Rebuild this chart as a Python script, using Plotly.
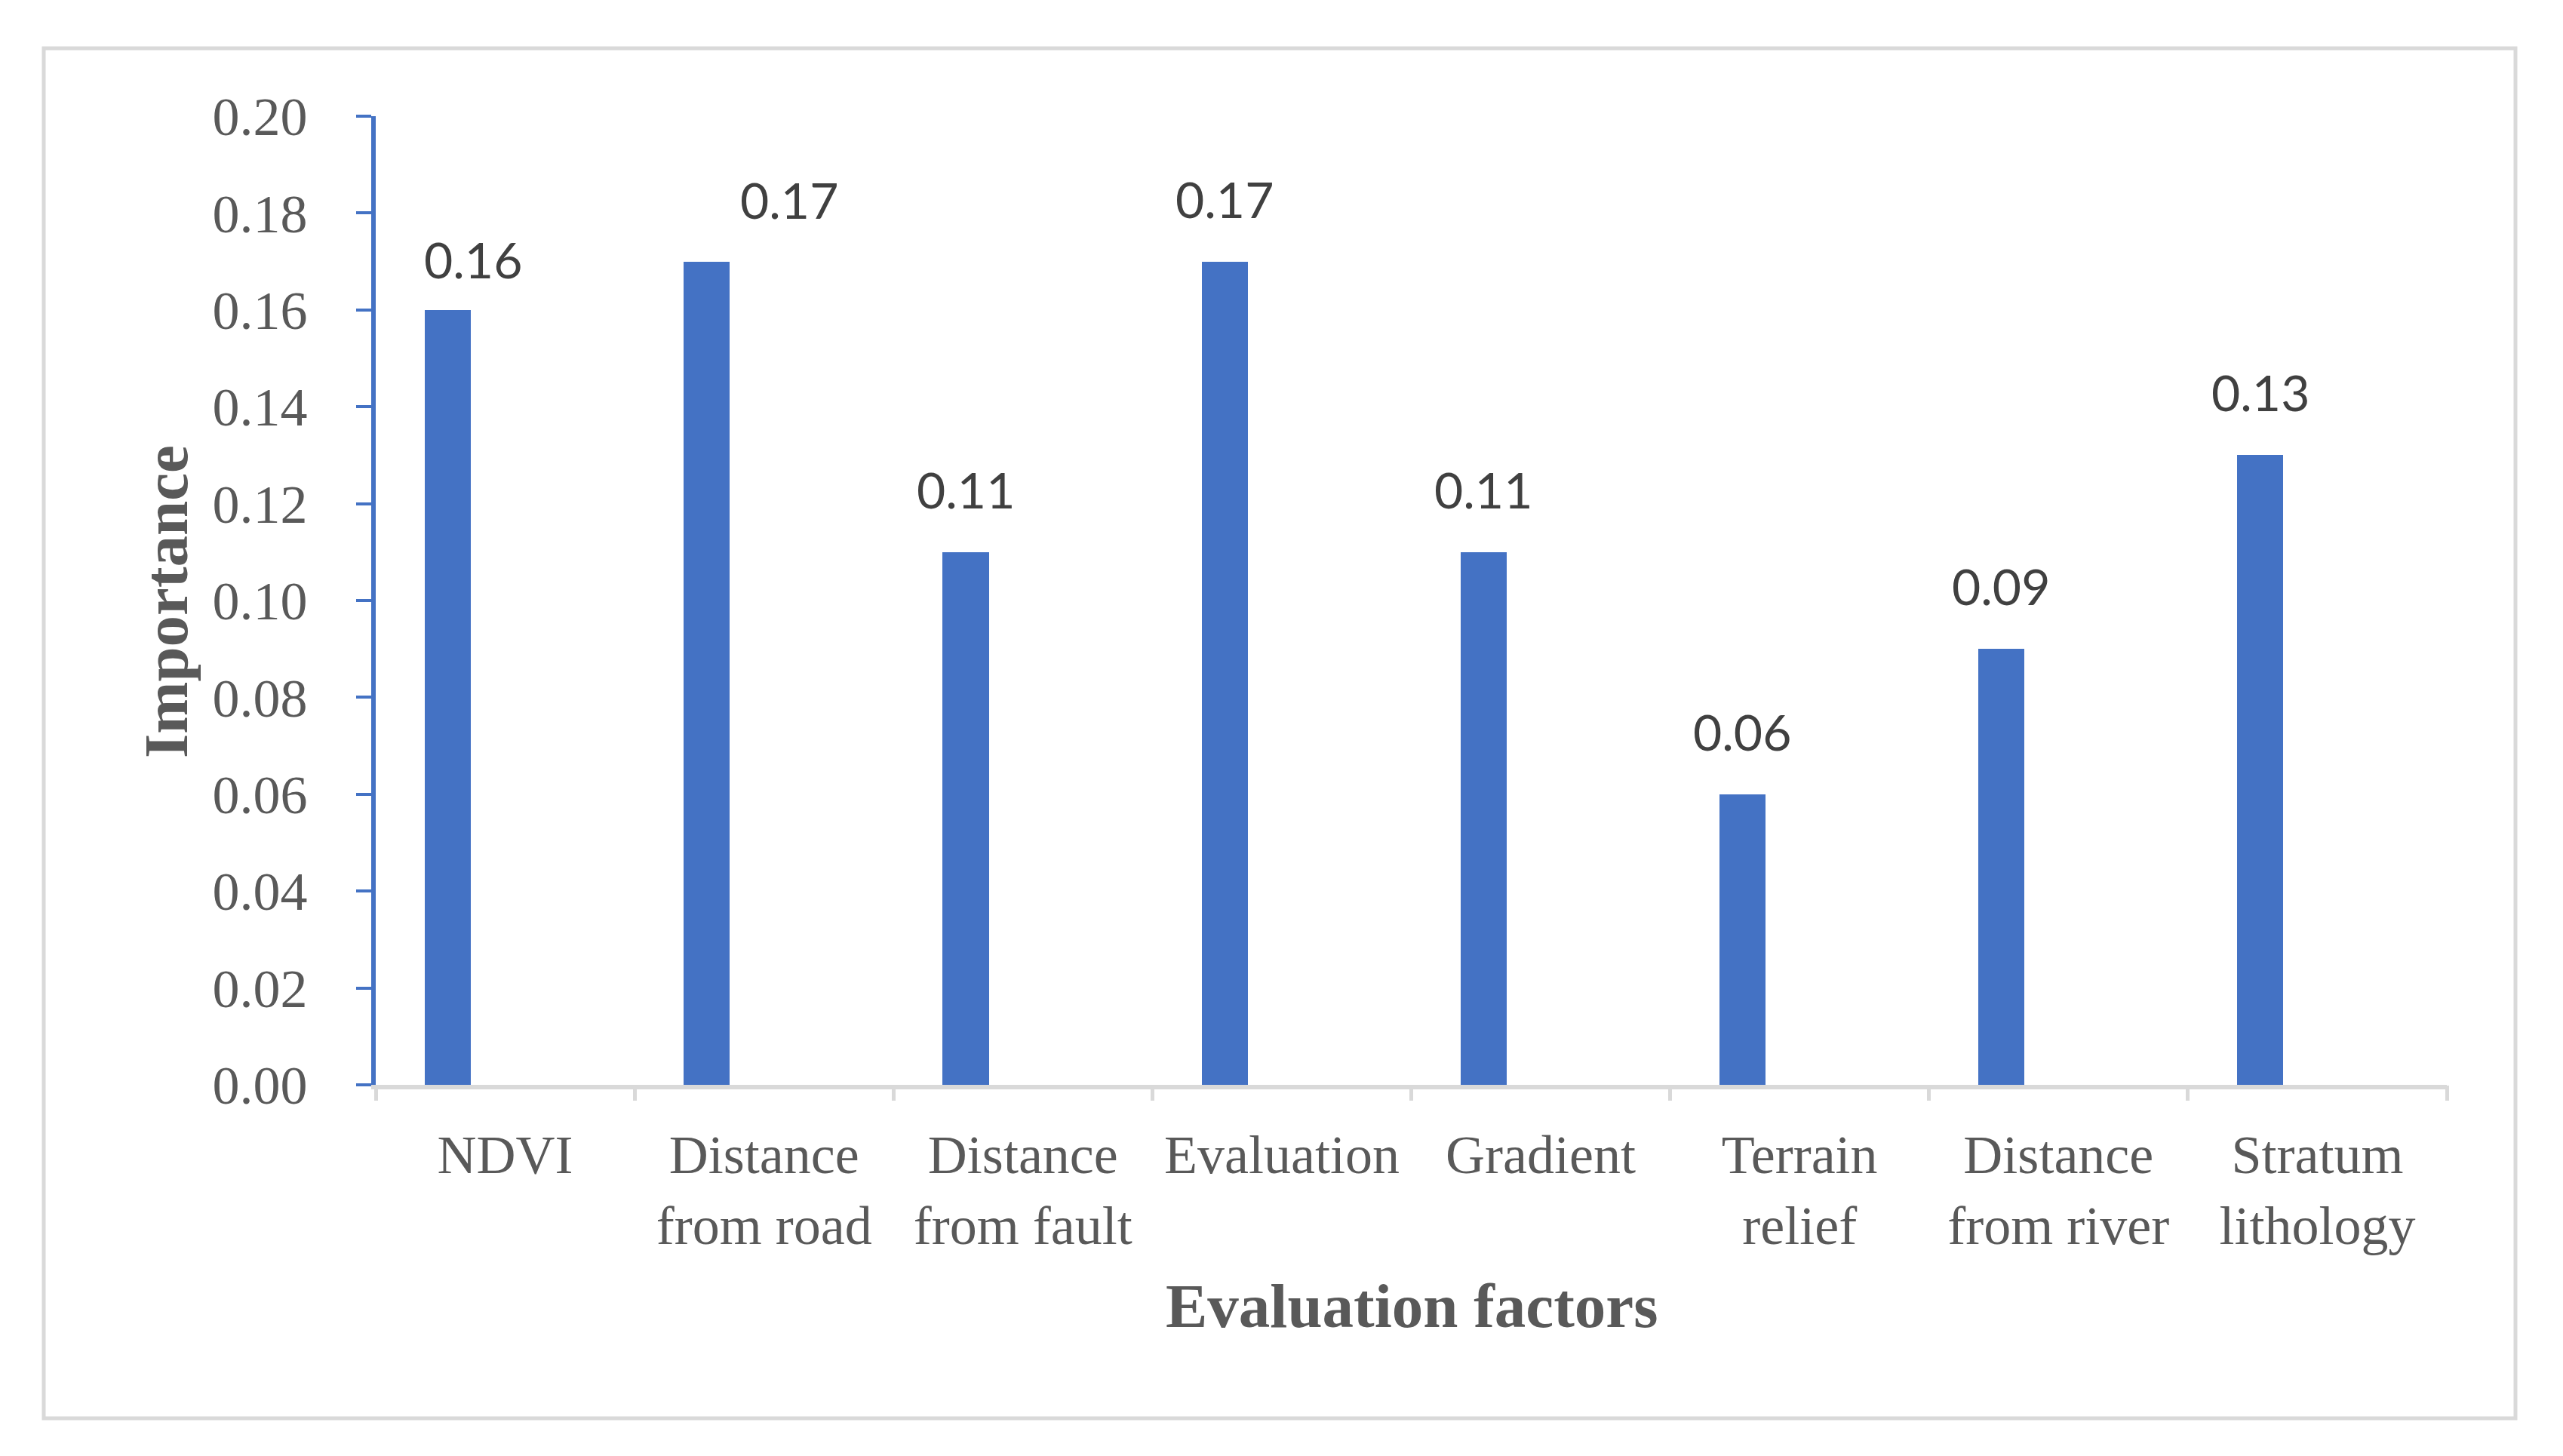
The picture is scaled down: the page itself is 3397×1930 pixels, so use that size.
import plotly.graph_objects as go

# ---- data ----
categories = ["NDVI", "Distance<br>from road", "Distance<br>from fault", "Evaluation",
              "Gradient", "Terrain<br>relief", "Distance<br>from river", "Stratum<br>lithology"]
importance = [0.16, 0.17, 0.11, 0.17, 0.11, 0.06, 0.09, 0.13]
value_labels = ["0.16", "0.17", "0.11", "0.17", "0.11", "0.06", "0.09", "0.13"]
y_ticks = [0.00, 0.02, 0.04, 0.06, 0.08, 0.10, 0.12, 0.14, 0.16, 0.18, 0.20]
y_tick_text = ["0.00", "0.02", "0.04", "0.06", "0.08", "0.10", "0.12", "0.14", "0.16", "0.18", "0.20"]

# ---- style ----
BAR_COLOR = "#4472C4"
BAR_WIDTH = 0.178
BAR_OFFSET = -0.31
LABEL_XSHIFT = [33, 109, 0, 0, 0, 0, 0, 0]
LABEL_YSHIFT = [26, 41, 42, 42, 42, 42, 42, 42]
SERIF = "Liberation Serif, Times New Roman, serif"
W, H = 3397, 1930
L, R, T, B = 498, 154, 154, 492

fig = go.Figure()
fig.add_trace(go.Bar(
    x=list(range(len(categories))), y=importance,
    width=BAR_WIDTH, offset=BAR_OFFSET,
    marker=dict(color=BAR_COLOR, line=dict(width=0)),
    hoverinfo="skip",
))

for i, (v, t) in enumerate(zip(importance, value_labels)):
    fig.add_annotation(
        x=i + BAR_OFFSET + BAR_WIDTH / 2, y=v, xref="x", yref="y",
        text=t, showarrow=False, xanchor="center", yanchor="bottom",
        xshift=LABEL_XSHIFT[i], yshift=LABEL_YSHIFT[i],
        font=dict(family="Lato, Open Sans, sans-serif", size=66, color="#404040"),
    )

pw = W - L - R
ph = H - T - B

def px_x(p):
    return (p - L) / pw

def px_y(p):
    return (H - B - p) / ph

# axis titles
fig.add_annotation(
    x=px_x(1871), y=px_y(1731), xref="paper", yref="paper",
    text="<b>Evaluation factors</b>", showarrow=False,
    xanchor="center", yanchor="middle",
    font=dict(family=SERIF, size=83, color="#595959"),
)
fig.add_annotation(
    x=px_x(220), y=px_y(798), xref="paper", yref="paper",
    text="<b>Importance</b>", showarrow=False, textangle=-90,
    xanchor="center", yanchor="middle",
    font=dict(family=SERIF, size=83, color="#595959"),
)

# outer border
fig.add_shape(
    type="rect", xref="paper", yref="paper",
    x0=px_x(58), x1=px_x(3334), y0=px_y(1880), y1=px_y(64),
    line=dict(color="#D9D9D9", width=5), fillcolor="rgba(0,0,0,0)", layer="below",
)

fig.update_layout(
    width=W, height=H,
    margin=dict(l=L, r=R, t=T, b=B, pad=0),
    paper_bgcolor="white", plot_bgcolor="white",
    showlegend=False,
    bargap=0,
    xaxis=dict(
        type="linear", range=[-0.5, len(categories) - 0.5],
        tickmode="array", tickvals=list(range(len(categories))), ticktext=categories,
        showgrid=False, zeroline=False,
        showline=True, linecolor="#D9D9D9", linewidth=6,
        ticks="",
        tickfont=dict(family=SERIF, size=72, color="#595959"),
        ticklabelstandoff=25,
    ),
    xaxis2=dict(
        overlaying="x", range=[-0.5, len(categories) - 0.5],
        tickmode="array", tickvals=[i - 0.5 for i in range(len(categories) + 1)],
        ticktext=[""] * (len(categories) + 1),
        ticks="outside", ticklen=20, tickwidth=5, tickcolor="#D9D9D9",
        showgrid=False, zeroline=False, showline=False,
        anchor="y", side="bottom",
    ),
    yaxis=dict(
        range=[0, 0.20], tickmode="array", tickvals=y_ticks, ticktext=y_tick_text,
        showgrid=False, zeroline=False,
        showline=True, linecolor=BAR_COLOR, linewidth=6,
        ticks="outside", ticklen=20, tickwidth=4, tickcolor=BAR_COLOR,
        tickfont=dict(family=SERIF, size=72, color="#595959"),
        ticklabelstandoff=50,
    ),
)
# invisible trace to activate xaxis2 ticks
fig.add_trace(go.Scatter(x=[0], y=[0], xaxis="x2", mode="markers",
                         marker=dict(opacity=0), hoverinfo="skip", showlegend=False))

fig.write_html("out.html", config={"displayModeBar": False},
               post_script="document.body.style.margin='0';document.body.style.overflow='hidden';")
